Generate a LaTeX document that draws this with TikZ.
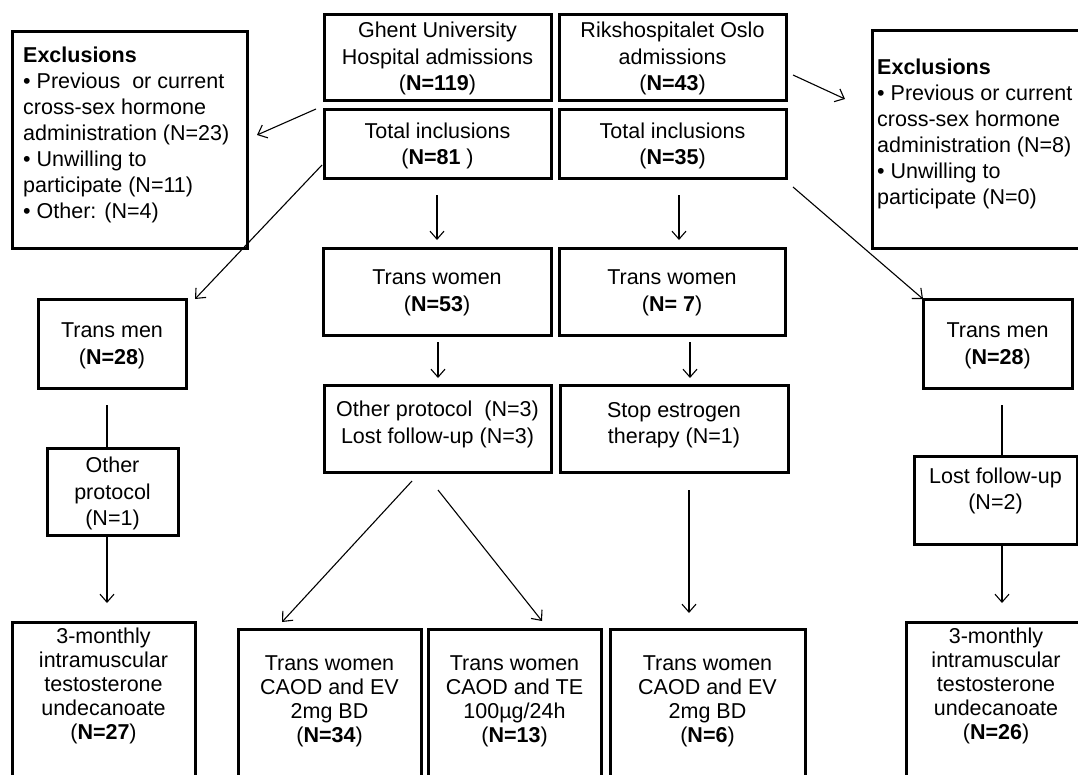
\documentclass[tikz,border=0pt]{standalone}
\usepackage{fontspec}
\setmainfont{Liberation Sans}
\usetikzlibrary{arrows.meta,calc}
\tikzset{
  box/.style={draw, line width=3pt, inner sep=0pt, outer sep=0pt},
  txt/.style={inner sep=0pt, align=center, font=\fontsize{21.5}{26.5}\selectfont},
  txtl/.style={inner sep=0pt, align=left, anchor=west, font=\fontsize{21.5}{26}\selectfont},
  txtb/.style={inner sep=0pt, align=center, font=\fontsize{21.5}{24}\selectfont},
  arr/.style={line width=1.1pt, -{Straight Barb[length=8pt,width=14pt]}},
  ln/.style={line width=1.1pt},
}
\begin{document}
\begin{tikzpicture}[x=1pt,y=-1pt]
\useasboundingbox (0,0) rectangle (1078,774);
\clip (0,0) rectangle (1078,774);
\fill[white] (0,0) rectangle (1078,774);

% boxes
\node[box, minimum width=227pt, minimum height=86pt] (ghent) at (437.5,57) {};
\node[box, minimum width=227pt, minimum height=86pt] (oslo) at (672.5,57) {};
\node[box, minimum width=227pt, minimum height=69pt] (ghentinc) at (437.5,143.5) {};
\node[box, minimum width=227pt, minimum height=69pt] (osloinc) at (672.5,143.5) {};
\node[box, minimum width=235pt, minimum height=217pt] (exclL) at (129.5,139.5) {};
\node[box, minimum width=230pt, minimum height=218pt] (exclR) at (987,139) {};
\node[box, minimum width=228pt, minimum height=87pt] (tw53) at (437,291.5) {};
\node[box, minimum width=226pt, minimum height=87pt] (tw7) at (672,291.5) {};
\node[box, minimum width=227pt, minimum height=87pt] (other3) at (437.5,428.5) {};
\node[box, minimum width=228pt, minimum height=87pt] (stopE) at (674,428.5) {};
\node[box, minimum width=148pt, minimum height=89pt] (tmL) at (112,343.5) {};
\node[box, minimum width=149pt, minimum height=89pt] (tmR) at (997.5,343.5) {};
\node[box, minimum width=131pt, minimum height=87pt] (otherL) at (112.5,491.5) {};
\node[box, minimum width=163pt, minimum height=88pt] (lostR) at (995.5,500) {};
\node[box, minimum width=183pt, minimum height=178pt] (monthL) at (103.5,711) {};
\node[box, minimum width=183pt, minimum height=171pt] (tw34) at (329.5,714.5) {};
\node[box, minimum width=173pt, minimum height=171pt] (tw13) at (514.5,714.5) {};
\node[box, minimum width=195pt, minimum height=171pt] (tw6) at (707.5,714.5) {};
\node[box, minimum width=184pt, minimum height=178pt] (monthR) at (998,711) {};

% texts
\node[txt] (ghent-t) at (437.5,58.5) {Ghent University\\Hospital admissions\\(\textbf{N=119})};
\node[txt] (oslo-t) at (672.5,58.5) {Rikshospitalet Oslo\\admissions\\(\textbf{N=43})};
\node[txt] (ghentinc-t) at (437.5,146) {Total inclusions\\(\textbf{N=81} )};
\node[txt] (osloinc-t) at (672.5,146) {Total inclusions\\(\textbf{N=35})};
\node[txtl] (exclL-t) at (23,135) {\textbf{Exclusions}\\• Previous\ \ or current\\cross-sex hormone\\administration (N=23)\\• Unwilling to\\participate (N=11)\\• Other: (N=4)};
\node[txtl] (exclR-t) at (877,133.5) {\textbf{Exclusions}\\• Previous or current\\cross-sex hormone\\administration (N=8)\\• Unwilling to\\participate (N=0)};
\node[txt] (tw53-t) at (437,293) {Trans women\\(\textbf{N=53})};
\node[txt] (tw7-t) at (672,293) {Trans women\\(\textbf{N= 7})};
\node[txt] (other3-t) at (437.5,424.5) {Other protocol\ \ (N=3)\\Lost follow-up (N=3)};
\node[txt] (stopE-t) at (674,425) {Stop estrogen\\therapy (N=1)};
\node[txt] (tmL-t) at (112,346) {Trans men\\(\textbf{N=28})};
\node[txt] (tmR-t) at (997.5,346) {Trans men\\(\textbf{N=28})};
\node[txt] (otherL-t) at (112.5,493.5) {Other\\protocol\\(N=1)};
\node[txt] (lostR-t) at (995.5,491) {Lost follow-up\\(N=2)};
\node[txtb] (monthL-t) at (103.5,686) {3-monthly\\intramuscular\\testosterone\\undecanoate\\(\textbf{N=27})};
\node[txtb] (tw34-t) at (329.5,701.5) {Trans women\\CAOD and EV\\2mg BD\\(\textbf{N=34})};
\node[txtb] (tw13-t) at (514.5,701.5) {Trans women\\CAOD and TE\\100µg/24h\\(\textbf{N=13})};
\node[txtb] (tw6-t) at (707.5,701.5) {Trans women\\CAOD and EV\\2mg BD\\(\textbf{N=6})};
\node[txtb] (monthR-t) at (996,686) {3-monthly\\intramuscular\\testosterone\\undecanoate\\(\textbf{N=26})};

% connectors
\draw[arr] ($(ghentinc.north west)+(-8,0)$) -- ($(exclL.east)+(10,-4.5)$);
\draw[arr] ($(ghentinc.west)+(-2,21.5)$) -- ($(tmL.north east)+(9,0)$);
\draw[arr] ($(ghentinc.south)+(-0.5,17)$) -- ($(tw53.north)+(0,-8)$);
\draw[arr] ($(osloinc.south)+(6.5,17)$) -- ($(tw7.north)+(7,-8)$);
\draw[arr] ($(oslo.east)+(7,18)$) -- ($(exclR.west)+(-27,-40)$);
\draw[arr] ($(osloinc.south east)+(7,9)$) -- (tmR.north west);
\draw[arr] ($(tw53.south)+(1,7)$) -- ($(other3.north)+(0.5,-7)$);
\draw[arr] ($(tw7.south)+(18,7)$) -- ($(stopE.north)+(16,-7)$);
\draw[arr] ($(other3.south)+(-25.5,9)$) -- ($(tw34.north)+(-47.5,-7)$);
\draw[arr] ($(other3.south)+(0.5,18)$) -- ($(tw13.north)+(27.5,-8)$);
\draw[arr] ($(stopE.south)+(15,18)$) -- ($(tw6.north)+(-18.5,-16)$);
\draw[ln] ($(tmL.south)+(-5,17)$) -- ($(otherL.north)+(-5.5,0)$);
\draw[arr] ($(otherL.south)+(-5.5,0)$) -- ($(monthL.north)+(3.5,-19)$);
\draw[ln] ($(tmR.south)+(4.5,17)$) -- ($(lostR.north)+(6.5,0)$);
\draw[arr] ($(lostR.south)+(6.5,0)$) -- ($(monthR.north)+(4,-19)$);
\end{tikzpicture}
\end{document}
